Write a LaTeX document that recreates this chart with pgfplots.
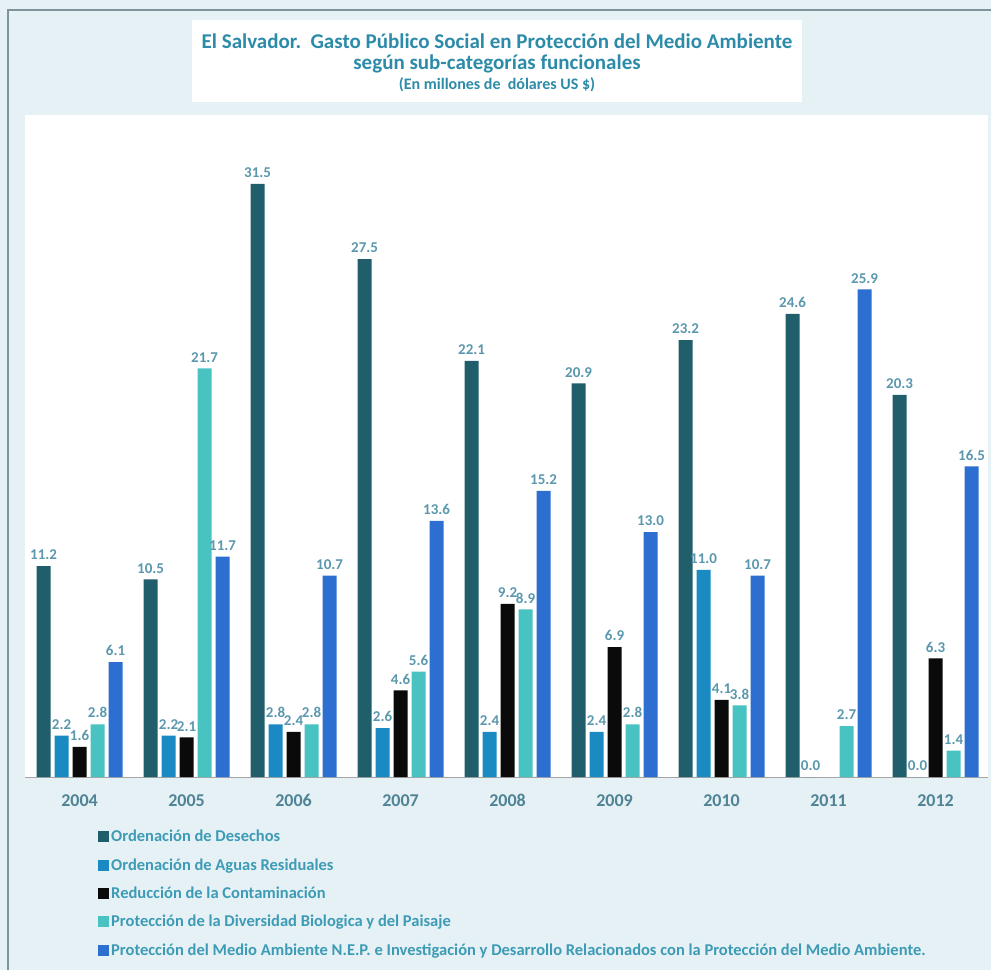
\documentclass[border=0pt]{standalone}
\usepackage{pgfplots}
\pgfplotsset{compat=1.18}
\usepackage{fontspec}
\setmainfont{Carlito}

\definecolor{bgcol}{HTML}{E5F1F5}
\definecolor{framecol}{HTML}{7D949B}
\definecolor{titlecol}{HTML}{2C8BA9}
\definecolor{labelcol}{HTML}{5B98AE}
\definecolor{yearcol}{HTML}{4F8395}
\definecolor{legcol}{HTML}{3D9BB6}
\definecolor{desechos}{HTML}{215E6B}
\definecolor{aguas}{HTML}{1A8AC2}
\definecolor{contam}{HTML}{0A0A0A}
\definecolor{diversidad}{HTML}{48C3C2}
\definecolor{medio}{HTML}{2C6FD0}

\begin{document}
\begin{tikzpicture}[x=1pt,y=1pt]
\useasboundingbox (0,0) rectangle (991,970);
\fill[bgcol] (0,0) rectangle (991,970);
\draw[framecol, line width=2pt] (8,0) -- (8,960) -- (991,960);
\fill[white] (192,868) rectangle (802,950);
\node[titlecol, font=\bfseries\fontsize{21}{24}\selectfont] at (497,929)
  {El Salvador.\ \ Gasto Público Social en Protección del Medio Ambiente};
\node[titlecol, font=\bfseries\fontsize{21}{24}\selectfont] at (497,906)
  {según sub-categorías funcionales};
\node[titlecol, font=\bfseries\fontsize{16}{19}\selectfont] at (497,885)
  {(En millones de\ \ dólares US \$)};

\begin{axis}[
  at={(25pt,193pt)}, anchor=south west,
  scale only axis, width=963pt, height=662pt,
  xmin=-0.51, xmax=8.49, ymin=0, ymax=35.16,
  ybar=4pt, bar width=14pt,
  axis background/.style={fill=white},
  axis y line=none,
  axis x line*=bottom,
  x axis line style={-, draw=black!35, line width=0.8pt},
  xtick={0,...,8},
  xticklabels={2004,2005,2006,2007,2008,2009,2010,2011,2012},
  major tick length=0pt,
  xticklabel style={font=\bfseries\fontsize{18}{18}\selectfont, text=yearcol, yshift=-14pt},
  /pgf/number format/assume math mode=true,
  /pgf/number format/fixed,
  /pgf/number format/fixed zerofill,
  /pgf/number format/precision=1,
  nodes near coords,
  every node near coord/.append style={font=\bfseries\fontsize{15}{15}\selectfont,
    text=labelcol, inner sep=1pt, yshift=5pt},
  legend style={at={(0.0758,-0.077)}, anchor=north west, draw=none, fill=none,
    font=\bfseries\fontsize{16.5}{18}\selectfont, text=legcol,
    row sep=11.3pt, inner sep=0pt},
  legend cell align=left,
]
\addplot[fill=desechos, draw=none,
  legend image code/.code={\fill[desechos] (0pt,-5.5pt) rectangle (11pt,5.5pt);}]
coordinates {(0,11.2) (1,10.5) (2,31.5) (3,27.5) (4,22.1) (5,20.9) (6,23.2) (7,24.6) (8,20.3)};
\addplot[fill=aguas, draw=none,
  legend image code/.code={\fill[aguas] (0pt,-5.5pt) rectangle (11pt,5.5pt);}]
coordinates {(0,2.2) (1,2.2) (2,2.8) (3,2.6) (4,2.4) (5,2.4) (6,11.0) (7,0.0) (8,0.0)};
\addplot[fill=contam, draw=none,
  legend image code/.code={\fill[contam] (0pt,-5.5pt) rectangle (11pt,5.5pt);}]
coordinates {(0,1.6) (1,2.1) (2,2.4) (3,4.6) (4,9.2) (5,6.9) (6,4.1) (8,6.3)};
\addplot[fill=diversidad, draw=none,
  legend image code/.code={\fill[diversidad] (0pt,-5.5pt) rectangle (11pt,5.5pt);}]
coordinates {(0,2.8) (1,21.7) (2,2.8) (3,5.6) (4,8.9) (5,2.8) (6,3.8) (7,2.7) (8,1.4)};
\addplot[fill=medio, draw=none,
  legend image code/.code={\fill[medio] (0pt,-5.5pt) rectangle (11pt,5.5pt);}]
coordinates {(0,6.1) (1,11.7) (2,10.7) (3,13.6) (4,15.2) (5,13.0) (6,10.7) (7,25.9) (8,16.5)};
\legend{Ordenación de Desechos,
  Ordenación de Aguas Residuales,
  Reducción de la Contaminación,
  Protección de la Diversidad Biologica y del Paisaje,
  Protección del Medio Ambiente N.E.P. e Investigación y Desarrollo Relacionados con la Protección del Medio Ambiente.}
\end{axis}
\end{tikzpicture}
\end{document}
